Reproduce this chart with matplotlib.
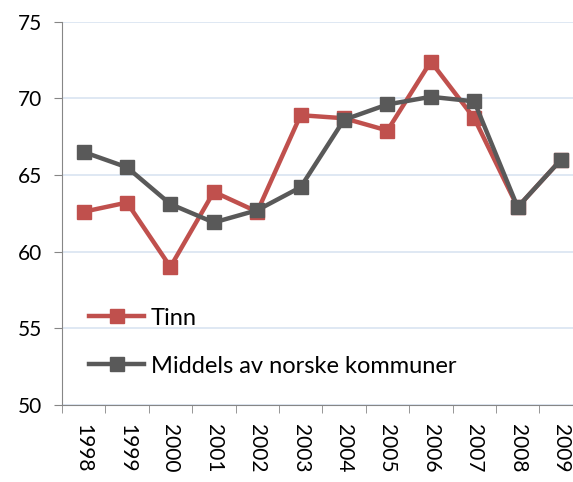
import numpy as np
import matplotlib.pyplot as plt

plt.rcParams['font.family'] = ['Lato', 'DejaVu Sans']

years = ["1998", "1999", "2000", "2001", "2002", "2003", "2004", "2005", "2006", "2007", "2008", "2009"]
tinn = [62.6, 63.2, 59.0, 63.9, 62.6, 68.9, 68.7, 67.9, 72.4, 68.7, 62.9, 66.0]
middels = [66.5, 65.5, 63.1, 61.9, 62.7, 64.2, 68.6, 69.6, 70.1, 69.8, 62.9, 66.0]

fig = plt.figure(figsize=(5.73, 4.82), dpi=100)
ax = fig.add_axes([0.108, 0.16, 0.909, 0.795])

x = np.arange(len(years))
ax.plot(x, tinn, color="#C0504D", lw=3.2, marker="s", ms=10, label="Tinn")
ax.plot(x, middels, color="#595959", lw=3.2, marker="s", ms=10, label="Middels av norske kommuner")

ax.set_xlim(-0.5, len(years) - 0.5)
ax.set_ylim(50, 75)
ax.set_yticks([50, 55, 60, 65, 70, 75])
ax.grid(axis="y", color="#DCE6F2", lw=1.3)
ax.set_axisbelow(True)

ax.set_xticks(x)
ax.set_xticklabels(years, rotation=270, fontsize=15)
ax.set_xticks(np.arange(-0.5, len(years)), minor=True)
ax.tick_params(axis="x", which="major", length=0, pad=14)
ax.tick_params(axis="x", which="minor", length=6, color="#868686")
ax.tick_params(axis="y", length=6, color="#868686", labelsize=15, pad=8)

for s in ["top", "right"]:
    ax.spines[s].set_visible(False)
for s in ["left", "bottom"]:
    ax.spines[s].set_color("#868686")

ax.legend(loc="lower left", bbox_to_anchor=(0.012, 0.018), frameon=False,
          fontsize=17, handlelength=2.3, handletextpad=0.3, labelspacing=1.15)

fig.savefig("out.png", dpi=100)
